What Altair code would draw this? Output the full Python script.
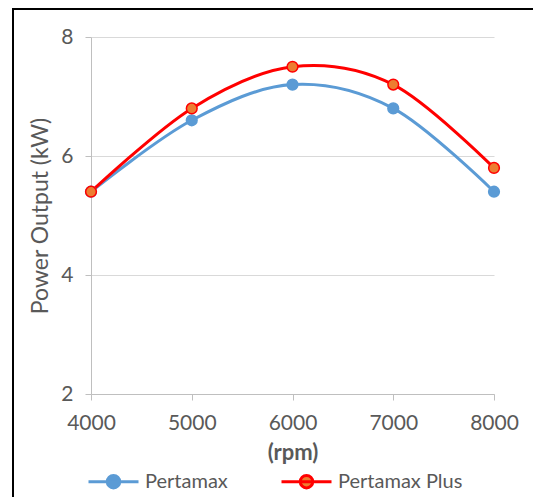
import altair as alt
import pandas as pd

rpm = [4000, 5000, 6000, 7000, 8000]
pertamax = [5.4, 6.6, 7.2, 6.8, 5.4]
pertamax_plus = [5.4, 6.8, 7.5, 7.2, 5.8]
series = ["Pertamax", "Pertamax Plus"]
line_colors = ["#5B9BD5", "#FF0000"]
fill_colors = ["#5B9BD5", "#ED7D31"]

rows = []
for name, vals in zip(series, [pertamax, pertamax_plus]):
    for r, v in zip(rpm, vals):
        rows.append({"rpm": r, "power": v, "fuel": name})
df = pd.DataFrame(rows)

FONT = "Lato"
GRAY = "#595959"

x = alt.X("rpm:Q", scale=alt.Scale(domain=[4000, 8000], nice=False),
          axis=alt.Axis(values=[4000, 5000, 6000, 7000, 8000], title="(rpm)", grid=False,
                        domainColor="#BFBFBF", tickColor="#BFBFBF", tickSize=6, labelFlush=False,
                        labelFontSize=21, labelColor=GRAY, labelFont=FONT, labelPadding=12,
                        titleFontSize=22, titleFontWeight="bold", titleColor=GRAY, titleFont=FONT,
                        titlePadding=9, format="d"))
y = alt.Y("power:Q", scale=alt.Scale(domain=[2, 8], nice=False),
          axis=alt.Axis(values=[2, 4, 6, 8], title="Power Output (kW)", grid=True, gridColor="#D9D9D9",
                        domainColor="#BFBFBF", tickColor="#BFBFBF", tickSize=6, labelFlush=False,
                        labelFontSize=21, labelColor=GRAY, labelFont=FONT, labelPadding=12,
                        titleFontSize=23, titleFontWeight="normal", titleColor=GRAY, titleFont=FONT,
                        titlePadding=8))

stroke_scale = alt.Scale(domain=series, range=line_colors)
fill_scale = alt.Scale(domain=series, range=fill_colors)

legend = alt.Legend(title=None, orient="none", legendX=-4, legendY=418, direction="horizontal",
                    symbolType="M-1,0H1M0.25,0A0.25,0.25 0 1,1 -0.25,0A0.25,0.25 0 1,1 0.25,0Z",
                    symbolSize=2500, symbolStrokeWidth=3, labelFontSize=20, labelColor=GRAY,
                    labelFont=FONT, labelOffset=5, columnPadding=47, symbolOpacity=1)

lines = alt.Chart(df).mark_line(interpolate="cardinal", strokeWidth=3).encode(
    x=x, y=y,
    stroke=alt.Stroke("fuel:N", scale=stroke_scale),
    detail="fuel:N",
)

points = alt.Chart(df).mark_point(filled=False, size=115, strokeWidth=1.5, opacity=1, shape="circle").encode(
    x=x, y=y,
    stroke=alt.Stroke("fuel:N", scale=stroke_scale, legend=legend),
    fill=alt.Fill("fuel:N", scale=fill_scale, legend=legend),
)

frame_df = pd.DataFrame({"k": [0]})
left_rule = alt.Chart(frame_df).mark_rule(color="black", strokeWidth=2).encode(
    x=alt.value(-78), y=alt.value(-28), y2=alt.value(480))
top_rule = alt.Chart(frame_df).mark_rule(color="black", strokeWidth=2).encode(
    x=alt.value(-79), x2=alt.value(460), y=alt.value(-28))

chart = alt.layer(lines, points, left_rule, top_rule).properties(
    width=403, height=357,
    autosize=alt.AutoSizeParams(type="none"),
    padding={"left": 91, "top": 37, "right": 39, "bottom": 103},
    background="white",
).configure_view(stroke=None)

chart.save("out.html", embed_options={"renderer": "svg", "actions": False})
